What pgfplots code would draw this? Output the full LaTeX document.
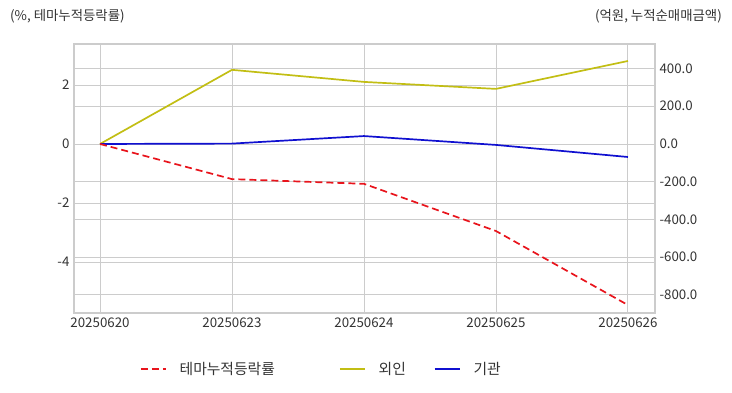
\documentclass[border=0pt]{standalone}
\usepackage{pgfplots}
\pgfplotsset{compat=1.18}
\usepackage{fontspec}
\setmainfont{Noto Sans CJK KR}
\definecolor{gridc}{HTML}{CCCCCC}
\definecolor{txt}{HTML}{333333}
\definecolor{redl}{HTML}{E8141C}
\definecolor{olivel}{HTML}{C2BE14}
\definecolor{bluel}{HTML}{1010D0}
\begin{document}
\begin{tikzpicture}[x=1pt,y=1pt]
\useasboundingbox (0,0) rectangle (732,392);
\pgfplotsset{base/.style={
  at={(74pt,79pt)}, anchor=south west,
  scale only axis, width=581pt, height=269pt,
  xmin=-0.197, xmax=4.205,
  major tick length=0pt,
  tick label style={font=\fontsize{13.3}{15}\selectfont, text=txt},
  grid style={gridc, line width=0.9pt},
  axis line style={gridc, line width=1.2pt},
}}
% axis 1: left axis with grid
\begin{axis}[base,
  ymin=-5.73, ymax=3.39,
  xtick={0,1,2,3,4},
  xticklabels={20250620,20250623,20250624,20250625,20250626},
  ytick={-4,-2,0,2}, yticklabels={-4,-2,0,2},
  xmajorgrids, ymajorgrids,
  xticklabel style={yshift=-1pt},
  yticklabel style={xshift=-1pt},
]
\addplot[draw=none] coordinates {(0,0)};
\end{axis}
% axis 2: right axis with grid, olive and blue
\begin{axis}[base,
  ymin=-896, ymax=530,
  axis x line=none,
  axis y line*=right,
  ytick={-800,-600,-400,-200,0,200,400},
  yticklabels={-800.0,-600.0,-400.0,-200.0,0.0,200.0,400.0},
  yticklabel style={xshift=1pt},
  ymajorgrids,
  legend columns=3,
  legend style={at={(0.108,-0.208)}, anchor=west, draw=none, fill=none,
    font=\fontsize{14.8}{17}\selectfont, text=txt,
    /tikz/every even column/.append style={column sep=15pt},
    nodes={inner xsep=13pt}},
  legend image code/.code={\draw[#1] (0pt,0pt) -- (25pt,0pt);},
]
\addlegendimage{redl, line width=1.7pt, dash pattern=on 7pt off 4pt}
\addlegendentry{테마누적등락률\rule{36pt}{0pt}}
\addplot[olivel, line width=1.7pt] coordinates {(0,0) (1,393) (2,329) (3,292) (4,440)};
\addlegendentry{외인}
\addplot[bluel, line width=1.7pt] coordinates {(0,0) (1,2) (2,42) (3,-5) (4,-69)};
\addlegendentry{기관}
\end{axis}
% axis 3: red line on left scale
\begin{axis}[base,
  ymin=-5.73, ymax=3.39,
  hide axis,
]
\addplot[redl, line width=1.7pt, dash pattern=on 7pt off 4pt] coordinates {(0,0) (1,-1.19) (2,-1.35) (3,-2.95) (4,-5.46)};
\end{axis}
\node[anchor=west, text=txt, font=\fontsize{13.4}{15}\selectfont, inner sep=0pt] at (10,376) {(\%, 테마누적등락률)};
\node[anchor=east, text=txt, font=\fontsize{13.4}{15}\selectfont, inner sep=0pt] at (722,376) {(억원, 누적순매매금액)};
\end{tikzpicture}
\end{document}
